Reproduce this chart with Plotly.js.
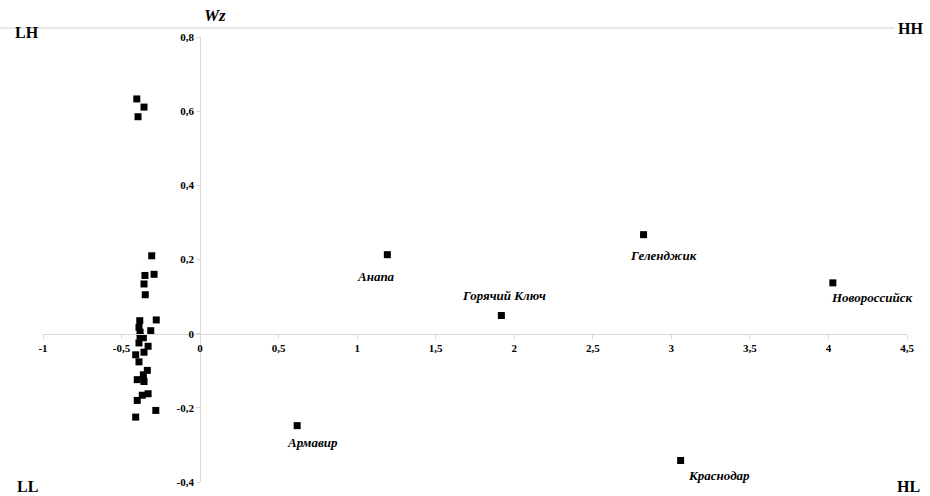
<!DOCTYPE html>
<html>
<head>
<meta charset="utf-8">
<script src="https://cdn.plot.ly/plotly-3.0.1.min.js"></script>
<style>
  html, body { margin: 0; padding: 0; background: #fff; }
  #plotlyDiv { width: 930px; height: 496px; }
</style>
</head>
<body>
<div id="plotlyDiv"></div>
<script>
// municipalities without labels (left cluster)
var otherX = [-0.403, -0.357, -0.395, -0.308, -0.351, -0.293, -0.357, -0.349, -0.384, -0.279,
  -0.389, -0.314, -0.382, -0.382, -0.361, -0.389, -0.331, -0.410, -0.357, -0.389,
  -0.336, -0.361, -0.400, -0.357, -0.331, -0.368, -0.400, -0.282, -0.410];
var otherY = [0.633, 0.611, 0.585, 0.210, 0.157, 0.160, 0.134, 0.105, 0.035, 0.037,
  0.017, 0.008, 0.004, -0.007, -0.011, -0.025, -0.034, -0.057, -0.050, -0.076,
  -0.099, -0.111, -0.124, -0.129, -0.162, -0.166, -0.180, -0.207, -0.225];

// labelled cities
var cityNames = ['Анапа', 'Горячий Ключ', 'Геленджик', 'Новороссийск', 'Армавир', 'Краснодар'];
var cityX = [1.192, 1.918, 2.823, 4.028, 0.618, 3.059];
var cityY = [0.213, 0.049, 0.267, 0.137, -0.248, -0.342];

var xTicks = [-1, -0.5, 0, 0.5, 1, 1.5, 2, 2.5, 3, 3.5, 4, 4.5];
var xTickText = ['-1', '-0,5', '0', '0,5', '1', '1,5', '2', '2,5', '3', '3,5', '4', '4,5'];
var yTicks = [-0.4, -0.2, 0, 0.2, 0.4, 0.6, 0.8];
var yTickText = ['-0,4', '-0,2', '0', '0,2', '0,4', '0,6', '0,8'];

// label offsets in px (dx, dy)
var labelShift = [[-11, -22], [3, 20], [20, -21], [39, -15], [15, -17], [38, -15]];

var serif = 'Liberation Serif';

var trace1 = {
  x: otherX.concat(cityX),
  y: otherY.concat(cityY),
  mode: 'markers',
  type: 'scatter',
  marker: {symbol: 'square', size: 7, color: '#000'},
  hoverinfo: 'skip'
};

var annotations = [];
for (var i = 0; i < cityNames.length; i++) {
  annotations.push({
    x: cityX[i], y: cityY[i], xref: 'x', yref: 'y',
    text: cityNames[i], showarrow: false,
    xshift: labelShift[i][0], yshift: labelShift[i][1],
    font: {family: serif, size: 13, color: '#000', weight: 'bold', style: 'italic'}
  });
}
var corners = [['LH', -0.0185, 1.011], ['HH', 1.0035, 1.020], ['LL', -0.0185, -0.01], ['HL', 1.0023, -0.01]];
for (var j = 0; j < corners.length; j++) {
  annotations.push({
    x: corners[j][1], y: corners[j][2], xref: 'paper', yref: 'paper',
    text: corners[j][0], showarrow: false, xanchor: 'center', yanchor: 'middle',
    font: {family: serif, size: 16, color: '#000', weight: 'bold'}
  });
}
annotations.push({
  x: 0.199, y: 1.049, xref: 'paper', yref: 'paper', text: 'Wz', showarrow: false,
  xanchor: 'center', yanchor: 'middle',
  font: {family: serif, size: 17, color: '#000', weight: 'bold', style: 'italic'}
});

var tickFont = {family: serif, size: 11, color: '#000', weight: 'bold'};

var layout = {
  width: 930, height: 496,
  margin: {l: 43, r: 23, t: 37, b: 14},
  paper_bgcolor: '#fff', plot_bgcolor: '#fff',
  showlegend: false,
  xaxis: {
    range: [-1, 4.5], tickvals: xTicks, ticktext: xTickText,
    showgrid: false, zeroline: false,
    showline: true, linecolor: '#d9d9d9', linewidth: 1,
    ticks: 'outside', ticklen: 4, tickcolor: '#d9d9d9',
    anchor: 'free', position: 1 / 3,
    tickfont: tickFont
  },
  yaxis: {
    range: [-0.4, 0.8], tickvals: yTicks, ticktext: yTickText,
    showgrid: false, zeroline: false,
    showline: true, linecolor: '#d9d9d9', linewidth: 1,
    ticks: 'outside', ticklen: 4, tickcolor: '#d9d9d9',
    anchor: 'free', position: 1 / 5.5,
    tickfont: tickFont
  },
  shapes: [{
    type: 'line', xref: 'paper', yref: 'paper',
    x0: -0.05, x1: 0.986, y0: 1.0202, y1: 1.0202,
    line: {color: '#d4d4d4', width: 1}
  }],
  annotations: annotations
};

Plotly.newPlot('plotlyDiv', [trace1], layout, {staticPlot: true});
</script>
</body>
</html>
